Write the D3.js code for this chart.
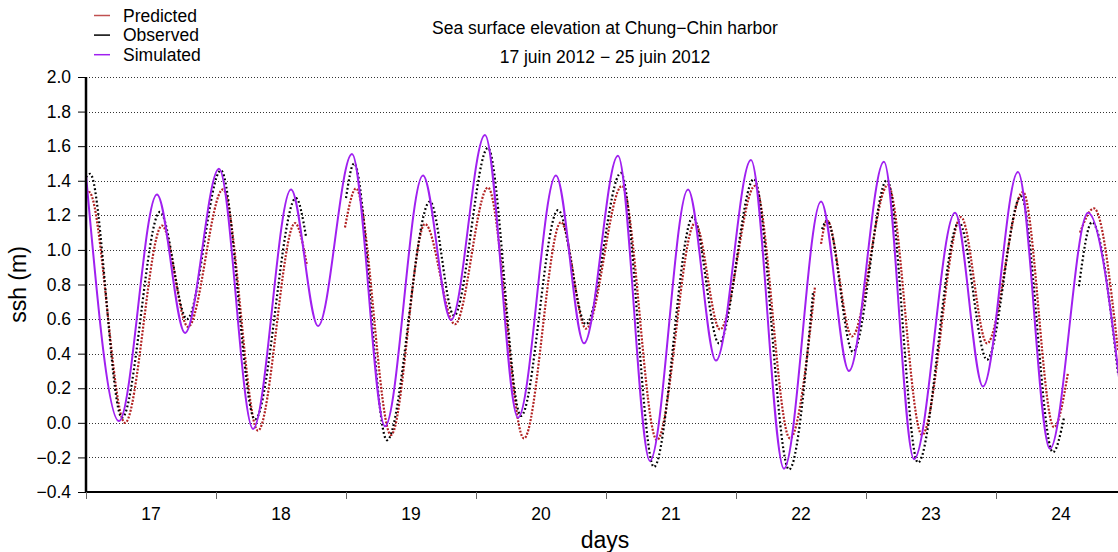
<!DOCTYPE html>
<html>
<head>
<meta charset="utf-8">
<script src="https://cdn.jsdelivr.net/npm/d3@7"></script>
<style>
body { margin: 0; background: #fff; }
text { font-family: "Liberation Sans", Arial, sans-serif; fill: #000; }
</style>
</head>
<body>
<div id="chart-area"></div>
<script>
// tick labels
const dayLabels = [17, 18, 19, 20, 21, 22, 23, 24]
const dayBounds = [17, 18, 19, 20, 21, 22, 23, 24, 25]
const yTicks = [-0.4, -0.2, 0.0, 0.2, 0.4, 0.6, 0.8, 1.0, 1.2, 1.4, 1.6, 1.8, 2.0]

// simulated (model) - turning points, time in days of June
const simTime = [17.000, 17.254, 17.546, 17.762, 18.023, 18.285, 18.577, 18.785, 19.046, 19.300,
	19.592, 19.808, 20.069, 20.323, 20.615, 20.831, 21.092, 21.338, 21.631, 21.846,
	22.115, 22.369, 22.654, 22.869, 23.138, 23.369, 23.685, 23.900, 24.169, 24.415,
	24.708, 24.969]
const simValue = [1.435, 0.01, 1.32, 0.52, 1.47, -0.035, 1.35, 0.56, 1.555, -0.02,
	1.43, 0.595, 1.665, 0.03, 1.43, 0.46, 1.545, -0.22, 1.35, 0.36,
	1.52, -0.265, 1.28, 0.30, 1.51, -0.21, 1.215, 0.21, 1.45, -0.15,
	1.215, 0.12]

// predicted tide (null = gap)
const predTime = [17.000, 17.023, 17.300, 17.585, 17.785, 18.054, 18.323, 18.608, 18.700, 18.850,
	18.992, 19.077, 19.346, 19.608, 19.838, 20.092, 20.369, 20.654, 20.846, 21.123,
	21.392, 21.685, 21.877, 22.146, 22.415, 22.608, 22.630,
	22.654, 22.700, 22.892, 23.169, 23.431, 23.731, 23.931, 24.208, 24.446, 24.554, 24.600,
	24.646, 24.754, 24.938]
const predValue = [1.32, 1.335, 0.0, 1.14, 0.555, 1.35, -0.045, 1.155, 0.91, null,
	1.13, 1.355, -0.07, 1.15, 0.57, 1.36, -0.09, 1.16, 0.545, 1.37,
	-0.1, 1.155, 0.54, 1.37, -0.09, 0.79, null,
	1.035, 1.17, 0.50, 1.375, -0.07, 1.19, 0.46, 1.335, -0.025, 0.29, null,
	1.1, 1.24, 0.42]

// observed sea level (null = gap)
const obsTime = [17.000, 17.031, 17.277, 17.569, 17.777, 18.038, 18.300, 18.615, 18.692, 18.850,
	19.000, 19.062, 19.315, 19.646, 19.831, 20.092, 20.346, 20.631, 20.846, 21.115,
	21.369, 21.669, 21.869, 22.138, 22.408, 22.592, 22.630,
	22.662, 22.700, 22.900, 23.162, 23.400, 23.715, 23.931, 24.192, 24.438, 24.523, 24.580,
	24.638, 24.738, 24.938]
const obsValue = [1.42, 1.44, 0.03, 1.22, 0.60, 1.46, 0.02, 1.30, 1.08, null,
	1.30, 1.50, -0.10, 1.28, 0.62, 1.59, 0.04, 1.23, 0.57, 1.445,
	-0.255, 1.19, 0.46, 1.41, -0.27, 0.75, null,
	1.12, 1.17, 0.41, 1.405, -0.23, 1.16, 0.365, 1.31, -0.17, 0.03, null,
	0.79, 1.16, 0.29]

const margin = { left: 86, top: 77, right: 0, bottom: 60 }
const width = 1040
const height = 415

const svg = d3.select("#chart-area").append("svg")
	.attr("width", 1118)
	.attr("height", 552)

const g = svg.append("g")
	.attr("transform", `translate(${margin.left},${margin.top})`)

const x = d3.scaleLinear().domain([17, 25]).range([0, width])
const y = d3.scaleLinear().domain([-0.4, 2.0]).range([height, 0])

// grid
g.append("g").selectAll("line")
	.data(yTicks)
	.enter().append("line")
	.attr("x1", 0).attr("x2", width)
	.attr("y1", d => Math.round(y(d)) + 0.5)
	.attr("y2", d => Math.round(y(d)) + 0.5)
	.attr("stroke", "#333")
	.attr("stroke-width", 1)
	.attr("stroke-dasharray", "1,2")

svg.append("clipPath").attr("id", "clip")
	.append("rect").attr("x", 0).attr("y", -20).attr("width", width).attr("height", height + 20)

const plot = g.append("g").attr("clip-path", "url(#clip)")

const toPoints = (t, v) => t.map((d, i) => ({ t: d, v: v[i] }))

const line = d3.line()
	.defined(d => d.v !== null)
	.x(d => x(d.t))
	.y(d => y(d.v))
	.curve(d3.curveMonotoneX)

plot.append("path")
	.datum(toPoints(predTime, predValue))
	.attr("fill", "none")
	.attr("stroke", "#b22222")
	.attr("stroke-width", 2.2)
	.attr("stroke-dasharray", "2,1.5")
	.attr("d", line)

plot.append("path")
	.datum(toPoints(obsTime, obsValue))
	.attr("fill", "none")
	.attr("stroke", "#000")
	.attr("stroke-width", 2.2)
	.attr("stroke-dasharray", "1.8,2.4")
	.attr("d", line)

plot.append("path")
	.datum(toPoints(simTime, simValue))
	.attr("fill", "none")
	.attr("stroke", "#a020f0")
	.attr("stroke-width", 2)
	.attr("d", line)

// y axis
const axisLeft = d3.axisLeft(y)
	.tickValues(yTicks)
	.tickFormat(d3.format(".1f"))
	.tickSize(8)
	.tickPadding(7)
const yAxis = g.append("g").call(axisLeft)
yAxis.select(".domain").attr("stroke-width", 2.5).attr("d", `M0,0V${height}`)
yAxis.selectAll("text").attr("font-size", "17.5px").attr("font-family", "Liberation Sans, Arial, sans-serif")

// x axis: ticks on day boundaries, labels at midday
const axisBottom = d3.axisBottom(x)
	.tickValues(dayBounds)
	.tickFormat("")
	.tickSize(7)
const xAxis = g.append("g")
	.attr("transform", `translate(0, ${height})`)
	.call(axisBottom)
xAxis.select(".domain").attr("stroke-width", 2).attr("d", `M0,0H${width}`)
xAxis.selectAll(".tick line").attr("stroke", "#666")

g.append("g").selectAll("text")
	.data(dayLabels)
	.enter().append("text")
	.attr("x", d => x(d + 0.5))
	.attr("y", height + 28)
	.attr("text-anchor", "middle")
	.attr("font-size", "17.5px")
	.text(d => d)

// axis labels
g.append("text")
	.attr("x", -height / 2 + 0)
	.attr("y", -60)
	.attr("transform", "rotate(-90)")
	.attr("text-anchor", "middle")
	.attr("font-size", "23px")
	.text("ssh (m)")

g.append("text")
	.attr("x", 519)
	.attr("y", height + 56)
	.attr("text-anchor", "middle")
	.attr("font-size", "23px")
	.text("days")

// titles
svg.append("text")
	.attr("x", 605).attr("y", 34)
	.attr("text-anchor", "middle")
	.attr("font-size", "17.5px")
	.text("Sea surface elevation at Chung\u2212Chin harbor")

svg.append("text")
	.attr("x", 605).attr("y", 63)
	.attr("text-anchor", "middle")
	.attr("font-size", "17.5px")
	.text("17 juin 2012 \u2212 25 juin 2012")

// legend
const legendNames = ["Predicted", "Observed", "Simulated"]
const legendColors = ["#c05050", "#000", "#a020f0"]
const legend = svg.append("g").selectAll("g")
	.data(legendNames)
	.enter().append("g")
	.attr("transform", (d, i) => `translate(0, ${15 + i * 19.6})`)
legend.append("line")
	.attr("x1", 94).attr("x2", 110)
	.attr("y1", 0.5).attr("y2", 0.5)
	.attr("stroke", (d, i) => legendColors[i])
	.attr("stroke-width", 1.5)
legend.append("text")
	.attr("x", 123).attr("y", 6.5)
	.attr("font-size", "17.5px")
	.text(d => d)
</script>
</body>
</html>
